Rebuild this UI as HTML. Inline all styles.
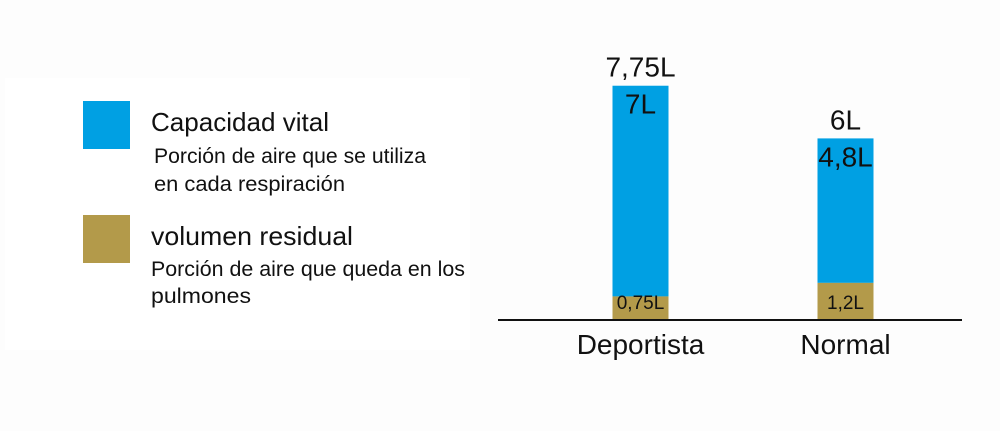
<!DOCTYPE html>
<html><head><meta charset="utf-8"><style>
html,body{margin:0;padding:0;background:#fff;}
svg{display:block;font-family:"Liberation Sans",sans-serif;}
</style></head><body>
<svg width="1000" height="431" viewBox="0 0 1000 431">
<rect x="0" y="0" width="1000" height="431" fill="#fdfdfd"/>
<rect x="5" y="78" width="465" height="272" fill="#fff"/>
<g>
 <g>
  <rect x="83" y="101" width="47" height="48" fill="#00a0e3"/>
  <text x="151" y="131" font-size="26" fill="#111" textLength="178" lengthAdjust="spacingAndGlyphs">Capacidad vital</text>
  <text x="154" y="163" font-size="21" fill="#111" textLength="272" lengthAdjust="spacingAndGlyphs">Porción de aire que se utiliza</text>
  <text x="154" y="191" font-size="21" fill="#111" textLength="191" lengthAdjust="spacingAndGlyphs">en cada respiración</text>
 </g>
 <g>
  <rect x="83" y="215" width="47" height="48" fill="#b39a4a"/>
  <text x="151" y="245" font-size="26" fill="#111" textLength="202" lengthAdjust="spacingAndGlyphs">volumen residual</text>
  <text x="151" y="276" font-size="21" fill="#111" textLength="314" lengthAdjust="spacingAndGlyphs">Porción de aire que queda en los</text>
  <text x="151" y="303" font-size="21" fill="#111" textLength="100" lengthAdjust="spacingAndGlyphs">pulmones</text>
 </g>
</g>
<g id="plot"></g>
<line x1="498" y1="320" x2="962" y2="320" stroke="#111" stroke-width="2"/>
</svg>
<script>
const categories = ["Deportista", "Normal"];
const residual = [0.75, 1.2];
const vital = [7, 4.8];
const totalLabels = ["7,75L", "6L"];
const vitalLabels = ["7L", "4,8L"];
const residualLabels = ["0,75L", "1,2L"];

const NS = "http://www.w3.org/2000/svg";
const baseY = 319, pxPerL = 30.1;
const centers = [640.5, 845.5], barW = 56;
function y(v){ return baseY - v * pxPerL; }
const g = document.getElementById("plot");
function mk(tag, attrs, txt){
  const e = document.createElementNS(NS, tag);
  for (const k in attrs) e.setAttribute(k, attrs[k]);
  if (txt !== undefined) e.textContent = txt;
  g.appendChild(e);
  return e;
}
categories.forEach((c, i) => {
  const cx = centers[i];
  const total = residual[i] + vital[i];
  const yr = y(residual[i]), yt = y(total);
  const b1 = mk("rect", {x: cx - barW/2, y: yt, width: barW, height: yr - yt, fill: "#00a0e3"});
  
  
  const b2 = mk("rect", {x: cx - barW/2, y: yr, width: barW, height: baseY - yr, fill: "#b39a4a"});
  
  
  const t1 = mk("text", {x: cx, y: yt - 9, "font-size": 28, "text-anchor": "middle", fill: "#111"}, totalLabels[i]);
  
  
  const t2 = mk("text", {x: cx, y: yt + 28, "font-size": 28, "text-anchor": "middle", fill: "#111"}, vitalLabels[i]);
  
  
  const t3 = mk("text", {x: cx, y: baseY - 10, "font-size": 19, "text-anchor": "middle", fill: "#111"}, residualLabels[i]);
  
  
  const t4 = mk("text", {x: cx, y: 354, "font-size": 28, "text-anchor": "middle", fill: "#111"}, c);
  
  
});
</script>
</body></html>
